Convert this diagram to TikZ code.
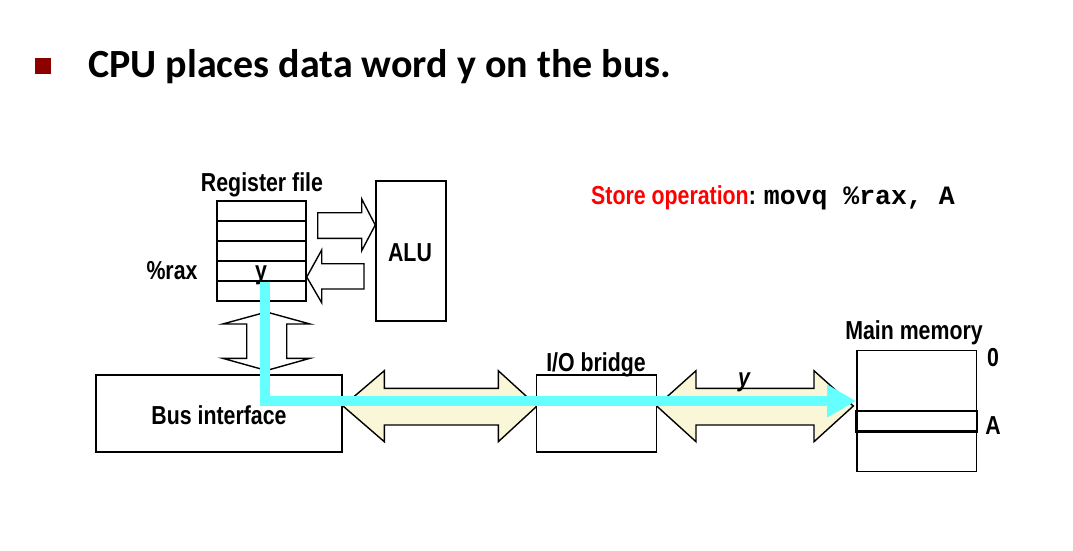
\documentclass[tikz,border=0pt]{standalone}
\usepackage{fontspec}
\usetikzlibrary{arrows.meta}
\newfontfamily\narrowfont[FakeStretch=0.82]{Liberation Sans}
\newfontfamily\titlefont{Carlito}
\newfontfamily\codefont{Liberation Mono}
\definecolor{bulletred}{RGB}{140,0,0}
\definecolor{buscream}{RGB}{250,246,216}
\definecolor{pathcyan}{RGB}{102,255,255}
\definecolor{storered}{RGB}{255,0,0}
\tikzset{
  box/.style={draw=black, line width=1.5pt, rectangle, inner sep=0pt, fill=white},
  rowline/.style={draw=black, line width=2pt},
  blockarrow/.style={draw=black, line width=1.4pt, fill=white, line join=miter},
  busarrow/.style={draw=black, line width=1.4pt, fill=buscream, line join=miter},
  lbl/.style={font=\narrowfont\bfseries\fontsize{26}{30}\selectfont, inner sep=0pt},
  flow/.style={draw=pathcyan, line width=9.5pt, line cap=butt, line join=miter,
    -{Triangle[length=29pt,width=31pt]}}
}
\begin{document}
\begin{tikzpicture}[x=1pt,y=-1pt]
\useasboundingbox (0,0) rectangle (1073,550);
% title
\fill[bulletred] (35,58) rectangle (51,74);
\node[anchor=base west, inner sep=0pt, font=\titlefont\bfseries\fontsize{40}{46}\selectfont] (title) at (88,77) {CPU places data word y on the bus.};
% store operation
\node[anchor=base west, inner sep=0pt] (store) at (591,204)
  {\narrowfont\bfseries\fontsize{26}{30}\selectfont\textcolor{storered}{Store operation}:\hspace{8pt}\codefont\bfseries\fontsize{26.5}{30}\selectfont movq\ \%rax,\ A};
% bus arrows
\draw[busarrow] (343,406) -- (384.3,370.7) -- (384.3,388.3) -- (498.3,388.3) -- (498.3,370.7) -- (537,406)
  -- (498.3,441.7) -- (498.3,425) -- (384.3,425) -- (384.3,441.7) -- cycle;
\draw[busarrow] (656.7,406) -- (696,370.7) -- (696,388.3) -- (814,388.3) -- (814,370.7) -- (853.3,406)
  -- (814,441.7) -- (814,425) -- (696,425) -- (696,441.7) -- cycle;
% register file
\node[box, minimum width=89pt, minimum height=100pt] (reg) at (261.5,251) {};
\foreach \yy in {220.7,240.7,261.3,281} \draw[rowline] (reg.west |- 0,\yy) -- (reg.east |- 0,\yy);
\node[lbl, anchor=base] (reglbl) at (262,191) {Register file};
\node[lbl, anchor=base] (rax) at (172,279) {\%rax};
\node[lbl, anchor=base] (yreg) at (261,279) {y};
% ALU
\node[box, minimum width=70pt, minimum height=140pt] (alu) at (411,251) {};
\node[lbl] (alulbl) at (410,253) {ALU};
% arrows between reg and ALU
\draw[blockarrow] (317.7,212.7) -- (361.7,212.7) -- (361.7,199) -- (alu.west |- 0,225) -- (361.7,250.7) -- (361.7,238.3) -- (317.7,238.3) -- cycle;
\draw[blockarrow] (reg.east |- 0,277) -- (321.7,250) -- (321.7,263.7) -- (364,263.7) -- (364,289) -- (321.7,289) -- (321.7,302.7) -- cycle;
% vertical double arrow
\draw[blockarrow] (266.5,312) -- (310,324) -- (286.7,324) -- (286.7,358.3) -- (310,358.3) -- (266.5,370.5)
  -- (222.7,358.3) -- (246.7,358.3) -- (246.7,324) -- (222.7,324) -- cycle;
% bus interface
\node[box, minimum width=246pt, minimum height=77pt] (busif) at (219,413.5) {};
\node[lbl] (busiflbl) at (219,415) {Bus interface};
% I/O bridge
\node[box, minimum width=120pt, minimum height=77pt] (bridge) at (596.5,413.5) {};
\node[lbl, anchor=base] (bridgelbl) at (596,371) {I/O bridge};
% main memory
\node[box, minimum width=119.5pt, minimum height=121pt] (mem) at (916.5,411) {};
\draw[line width=2.2pt] (856,411.3) rectangle (mem.east |- 0,431.5);
\node[lbl, anchor=base] (memlbl) at (914,339) {Main memory};
\node[lbl, anchor=base] (zero) at (993,366) {0};
\node[lbl, anchor=base] (addrA) at (993,434) {A};
% y on bus
\node[lbl, anchor=base, font=\narrowfont\bfseries\itshape\fontsize{26}{30}\selectfont] (ybus) at (744,386) {y};
% data flow
\coordinate (fstart) at (265,282);
\coordinate (fcorner) at (265,401);
\draw[flow] (fstart) -- (fcorner) -- (mem.west |- fcorner);
\end{tikzpicture}
\end{document}
